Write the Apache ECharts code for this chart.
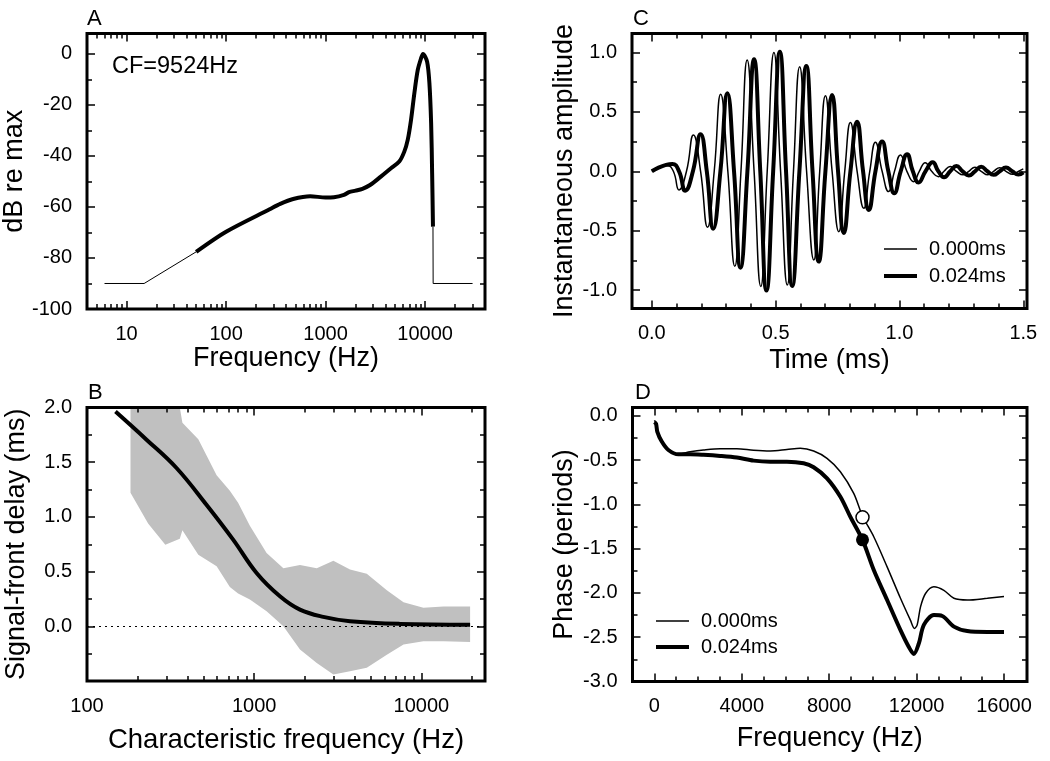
<!DOCTYPE html>
<html>
<head>
<meta charset="utf-8">
<script src="https://cdn.jsdelivr.net/npm/echarts@6/dist/echarts.min.js"></script>
<style>html,body{margin:0;padding:0;background:#fff}#c{width:1050px;height:761px}</style>
</head>
<body>
<div id="c"></div>
<script>
// ---------- Panel A: magnitude response ----------
const freqA_low = [6, 15, 50];
const dbA_low = [-90, -90, -77.6];
const freqA_mid = [50, 100, 274, 350, 472, 700, 1000, 1213, 1530, 1718, 2000, 2344, 2800, 3590, 4540, 5500, 6180, 6690, 7220, 7800, 8440, 9110, 9524, 10470, 11050, 11500, 11770, 12000];
const dbA_mid = [-77.6, -69.7, -60.9, -58.8, -56.9, -55.8, -56.3, -56.2, -55.3, -54.2, -53.6, -52.9, -51.4, -48.1, -44.8, -42.2, -38.3, -33.7, -25.9, -15.4, -6.3, -1.7, 0, -3.0, -11.5, -27.2, -46.8, -67.7];
const freqA_high = [12000, 12050, 30000];
const dbA_high = [-67.7, -90, -90];
const A_xMajor = [10, 100, 1000, 10000];
const A_xMinor = [5, 6, 7, 8, 9, 20, 30, 40, 50, 60, 70, 80, 90, 200, 300, 400, 500, 600, 700, 800, 900, 2000, 3000, 4000, 5000, 6000, 7000, 8000, 9000, 20000, 30000];
const A_yMajor = [-100, -80, -60, -40, -20, 0];
const A_yMinor = [-90, -70, -50, -30, -10];

// ---------- Panel B: signal-front delay ----------
const freqB_curve = [148, 227, 343, 518, 748, 1033, 1425, 1877, 2588, 3740, 7450, 19550];
const delayB_curve = [1.963, 1.706, 1.447, 1.111, 0.792, 0.487, 0.274, 0.152, 0.086, 0.046, 0.022, 0.015];
const freqB_band = [182, 232, 294, 359, 372, 463, 596, 715, 801, 942, 1186, 1494, 1878, 2366, 2974, 3740, 4711, 6210, 7815, 10280, 13540, 19550];
const upperB_band = [2.0, 2.0, 2.0, 2.0, 1.86, 1.71, 1.38, 1.24, 1.13, 0.92, 0.67, 0.53, 0.56, 0.53, 0.60, 0.52, 0.48, 0.33, 0.22, 0.17, 0.18, 0.18];
const lowerB_band = [1.22, 0.94, 0.746, 0.80, 0.877, 0.654, 0.548, 0.36, 0.30, 0.244, 0.137, 0.0, -0.213, -0.335, -0.44, -0.41, -0.38, -0.26, -0.167, -0.137, -0.137, -0.143];
const B_xMajor = [100, 1000, 10000];
const B_xMinor = [200, 300, 400, 500, 600, 700, 800, 900, 2000, 3000, 4000, 5000, 6000, 7000, 8000, 9000, 20000];
const B_yMajor = [-0.5, 0, 0.5, 1.0, 1.5, 2.0];
const B_yLabels = [0, 0.5, 1.0, 1.5, 2.0];
const B_yMinor = [-0.25, 0.25, 0.75, 1.25, 1.75];

// ---------- Panel C: instantaneous amplitude ----------
const timeC_0 = [0, 0.063, 0.087, 0.11, 0.14, 0.168, 0.197, 0.225, 0.252, 0.278, 0.307, 0.335, 0.36, 0.385, 0.413, 0.44, 0.466, 0.493, 0.52, 0.547, 0.572, 0.597, 0.625, 0.654, 0.678, 0.701, 0.728, 0.755, 0.779, 0.802, 0.829, 0.856, 0.88, 0.903, 0.93, 0.956, 0.98, 1.004, 1.03, 1.057, 1.08, 1.104, 1.13, 1.157, 1.18, 1.205, 1.23, 1.257, 1.28, 1.305, 1.33, 1.357, 1.38, 1.405, 1.43, 1.457, 1.48, 1.5];
const ampC_0 = [0, 0.047, 0, -0.157, 0, 0.306, 0, -0.471, 0, 0.648, 0, -0.80, 0, 0.937, 0, -0.97, 0, 1.0, 0, -0.957, 0, 0.881, 0, -0.746, 0, 0.637, 0, -0.508, 0, 0.41, 0, -0.311, 0, 0.244, 0, -0.171, 0, 0.137, 0, -0.087, 0, 0.073, 0, -0.045, 0, 0.04, 0, -0.03, 0, 0.035, 0, -0.03, 0, 0.03, 0, -0.025, 0, 0.02];
const timeC_24 = [0, 0.083, 0.11, 0.135, 0.166, 0.197, 0.222, 0.248, 0.277, 0.305, 0.332, 0.358, 0.386, 0.413, 0.438, 0.463, 0.49, 0.517, 0.542, 0.567, 0.596, 0.624, 0.649, 0.674, 0.701, 0.728, 0.752, 0.775, 0.802, 0.829, 0.853, 0.876, 0.903, 0.930, 0.955, 0.979, 1.005, 1.031, 1.054, 1.077, 1.105, 1.134, 1.157, 1.18, 1.205, 1.23, 1.255, 1.28, 1.305, 1.33, 1.355, 1.38, 1.405, 1.43, 1.455, 1.48, 1.5];
const ampC_24 = [0, 0.061, 0, -0.163, 0, 0.311, 0, -0.483, 0, 0.657, 0, -0.811, 0, 0.943, 0, -1.004, 0, 1.007, 0, -0.965, 0, 0.887, 0, -0.76, 0, 0.643, 0, -0.52, 0, 0.418, 0, -0.325, 0, 0.25, 0, -0.185, 0, 0.143, 0, -0.095, 0, 0.076, 0, -0.05, 0, 0.045, 0, -0.035, 0, 0.038, 0, -0.03, 0, 0.033, 0, -0.028, -0.01];
const C_xMajor = [0, 0.5, 1.0, 1.5];
const C_xMinor = [0.1, 0.2, 0.3, 0.4, 0.6, 0.7, 0.8, 0.9, 1.1, 1.2, 1.3, 1.4];
const C_yMajor = [-1.0, -0.5, 0, 0.5, 1.0];
const C_yMinor = [-0.75, -0.25, 0.25, 0.75];

// ---------- Panel D: phase ----------
const freqD_0 = [0, 78, 137, 339, 642, 1100, 1637, 2246, 3010, 3774, 4538, 5302, 6066, 6677, 7289, 7900, 8511, 9122, 9524, 10039, 10650, 11261, 11720, 11900, 12025, 12178, 12407, 12789, 13248, 13706, 14317, 15234, 15998];
const phaseD_0 = [-0.05, -0.083, -0.177, -0.29, -0.385, -0.43, -0.405, -0.385, -0.37, -0.37, -0.388, -0.396, -0.38, -0.366, -0.396, -0.479, -0.63, -0.875, -1.13, -1.365, -1.705, -2.06, -2.31, -2.40, -2.36, -2.157, -2.006, -1.93, -1.97, -2.06, -2.08, -2.06, -2.04];
const freqD_24 = [0, 78, 137, 339, 642, 1100, 1637, 2246, 3010, 3774, 4538, 5302, 6066, 6830, 7289, 7900, 8511, 8969, 9524, 10039, 10650, 11261, 11643, 11873, 12102, 12331, 12789, 13171, 13706, 14317, 15234, 15998];
const phaseD_24 = [-0.07, -0.09, -0.18, -0.29, -0.385, -0.434, -0.434, -0.44, -0.452, -0.47, -0.505, -0.517, -0.517, -0.535, -0.58, -0.705, -0.913, -1.14, -1.40, -1.74, -2.08, -2.42, -2.61, -2.69, -2.57, -2.36, -2.25, -2.26, -2.38, -2.43, -2.44, -2.44];
const cfD = [9524];
const openPhaseD = [-1.146];
const filledPhaseD = [-1.40];
const D_xMajor = [0, 4000, 8000, 12000, 16000];
const D_xMinor = [1000, 2000, 3000, 5000, 6000, 7000, 9000, 10000, 11000, 13000, 14000, 15000];
const D_yMajor = [-3.0, -2.5, -2.0, -1.5, -1.0, -0.5, 0];
const D_yMinor = [-2.75, -2.25, -1.75, -1.25, -0.75, -0.25];

const legendNames = ['0.000ms', '0.024ms'];

// ---------- build ----------
const FONT = '"Liberation Sans", Arial, Helvetica, sans-serif';
const zip = (a, b) => a.map((v, i) => [v, b[i]]);
const fmtInt = v => String(Math.round(v));
const fmt1 = v => (Math.abs(v) < 1e-9 ? 0 : v).toFixed(1);

function axis(o) {
  const ax = {
    type: o.type || 'value',
    gridIndex: o.grid,
    min: o.min, max: o.max,
    position: o.position,
    z: 6,
    axisLine: { show: false, onZero: false },
    axisTick: { show: true, inside: true, length: o.len, lineStyle: { color: '#000', width: 1.5 }, customValues: o.ticks },
    axisLabel: o.labels ? { show: true, customValues: o.labels, formatter: o.fmt, color: '#000', fontSize: 20, fontFamily: FONT, margin: 15 } : { show: false },
    splitLine: { show: false },
    minorTick: { show: false },
    minorSplitLine: { show: false }
  };
  if (ax.type === 'log') ax.logBase = 10;
  if (o.name) {
    ax.name = o.name;
    ax.nameLocation = 'middle';
    ax.nameGap = o.nameGap;
    ax.nameTextStyle = { color: '#000', fontSize: o.nameSize || 27, fontFamily: FONT };
  }
  return ax;
}

function panelAxes(g, xs, ys) {
  const x = [
    axis(Object.assign({}, xs, { grid: g, position: 'bottom', ticks: xs.major, len: 8 })),
    axis({ type: xs.type, grid: g, min: xs.min, max: xs.max, position: 'top', ticks: xs.major, len: 8 }),
    axis({ type: xs.type, grid: g, min: xs.min, max: xs.max, position: 'bottom', ticks: xs.minor, len: 5 }),
    axis({ type: xs.type, grid: g, min: xs.min, max: xs.max, position: 'top', ticks: xs.minor, len: 5 })
  ];
  const y = [
    axis(Object.assign({}, ys, { grid: g, position: 'left', ticks: ys.major, len: 8 })),
    axis({ grid: g, min: ys.min, max: ys.max, position: 'right', ticks: ys.major, len: 8 }),
    axis({ grid: g, min: ys.min, max: ys.max, position: 'left', ticks: ys.minor, len: 5 }),
    axis({ grid: g, min: ys.min, max: ys.max, position: 'right', ticks: ys.minor, len: 5 })
  ];
  return { x, y };
}

const pA = panelAxes(0,
  { type: 'log', min: 4, max: 40000, major: A_xMajor, minor: A_xMinor, labels: A_xMajor, fmt: fmtInt, name: 'Frequency (Hz)', nameGap: 35 },
  { min: -100, max: 8, major: A_yMajor, minor: A_yMinor, labels: A_yMajor, fmt: fmtInt, name: 'dB re max', nameGap: 54 });
const pC = panelAxes(1,
  { min: -0.08, max: 1.515, major: C_xMajor, minor: C_xMinor, labels: C_xMajor, fmt: fmt1, name: 'Time (ms)', nameGap: 39 },
  { min: -1.155, max: 1.16, major: C_yMajor, minor: C_yMinor, labels: C_yMajor, fmt: fmt1, name: 'Instantaneous amplitude', nameGap: 54 });
const pB = panelAxes(2,
  { type: 'log', min: 100, max: 24000, major: B_xMajor, minor: B_xMinor, labels: B_xMajor, fmt: fmtInt, name: 'Characteristic frequency (Hz)', nameGap: 45, nameSize: 27.5 },
  { min: -0.5, max: 2.0, major: B_yMajor, minor: B_yMinor, labels: B_yLabels, fmt: fmt1, name: 'Signal-front delay (ms)', nameGap: 57 });
const pD = panelAxes(3,
  { min: -1000, max: 17050, major: D_xMajor, minor: D_xMinor, labels: D_xMajor, fmt: fmtInt, name: 'Frequency (Hz)', nameGap: 44 },
  { min: -3.0, max: 0.095, major: D_yMajor, minor: D_yMinor, labels: D_yMajor, fmt: fmt1, name: 'Phase (periods)', nameGap: 54 });

const gridStyle = { show: true, borderColor: '#000', borderWidth: 3, backgroundColor: 'transparent', z: 6 };
const lineBase = { type: 'line', symbol: 'none', showSymbol: false, animation: false };
const thinIcon = 'path://M0 0H66V3H0Z';
const boldIcon = 'path://M0 0H33V4H0Z';
const legendData = [{ name: legendNames[0], icon: thinIcon }, { name: legendNames[1], icon: boldIcon }];
const letterStyle = { fontSize: 22, fontWeight: 'normal', color: '#000', fontFamily: FONT };

const option = {
  animation: false,
  backgroundColor: '#fff',
  textStyle: { fontFamily: FONT },
  title: [
    { text: 'A', left: 87, top: 8, padding: 0, textStyle: letterStyle },
    { text: 'C', left: 633, top: 8, padding: 0, textStyle: letterStyle },
    { text: 'B', left: 88, top: 382, padding: 0, textStyle: letterStyle },
    { text: 'D', left: 635, top: 382, padding: 0, textStyle: letterStyle },
    { text: 'CF=9524Hz', left: 112, top: 55, padding: 0, textStyle: { fontSize: 23.5, fontWeight: 'normal', color: '#000', fontFamily: FONT } }
  ],
  grid: [
    Object.assign({ left: 87, top: 33.5, width: 398, height: 275.5 }, gridStyle),
    Object.assign({ left: 632, top: 33.5, width: 395, height: 275 }, gridStyle),
    Object.assign({ left: 87, top: 407.5, width: 398, height: 273.5 }, gridStyle),
    Object.assign({ left: 632.5, top: 407.5, width: 394.5, height: 274 }, gridStyle)
  ],
  xAxis: [].concat(pA.x, pC.x, pB.x, pD.x),
  yAxis: [].concat(pA.y, pC.y, pB.y, pD.y),
  legend: [
    { data: legendData, orient: 'vertical', left: 884, top: 239, itemWidth: 33, itemHeight: 14, itemGap: 7, selectedMode: false, padding: 0,
      textStyle: { color: '#000', fontSize: 20, fontFamily: FONT, padding: [0, 0, 0, 7] } },
    { data: legendData, orient: 'vertical', left: 656, top: 611, itemWidth: 33, itemHeight: 14, itemGap: 6, selectedMode: false, padding: 0,
      textStyle: { color: '#000', fontSize: 20, fontFamily: FONT, padding: [0, 0, 0, 7] } }
  ],
  series: [
    // A
    Object.assign({}, lineBase, { xAxisIndex: 0, yAxisIndex: 0, data: zip(freqA_low, dbA_low), lineStyle: { color: '#000', width: 1 } }),
    Object.assign({}, lineBase, { xAxisIndex: 0, yAxisIndex: 0, data: zip(freqA_high, dbA_high), lineStyle: { color: '#000', width: 1 } }),
    Object.assign({}, lineBase, { xAxisIndex: 0, yAxisIndex: 0, data: zip(freqA_mid, dbA_mid), smooth: 0.3, lineStyle: { color: '#000', width: 4 } }),
    // C
    Object.assign({}, lineBase, { name: legendNames[0], xAxisIndex: 4, yAxisIndex: 4, data: zip(timeC_0, ampC_0), smooth: 0.5, itemStyle: { color: '#000' }, lineStyle: { color: '#000', width: 1.5 } }),
    Object.assign({}, lineBase, { name: legendNames[1], xAxisIndex: 4, yAxisIndex: 4, data: zip(timeC_24, ampC_24), smooth: 0.5, itemStyle: { color: '#000' }, lineStyle: { color: '#000', width: 4 } }),
    // B band (polygon between upper and lower bounds)
    {
      type: 'custom', xAxisIndex: 8, yAxisIndex: 8, silent: true, z: 1, clip: true,
      data: [[freqB_band[0], lowerB_band[0]]],
      renderItem: function (params, api) {
        const pts = [];
        for (let i = 0; i < freqB_band.length; i++) pts.push(api.coord([freqB_band[i], upperB_band[i]]));
        for (let i = freqB_band.length - 1; i >= 0; i--) pts.push(api.coord([freqB_band[i], lowerB_band[i]]));
        return { type: 'polygon', shape: { points: pts }, style: { fill: '#c0c0c0', stroke: null } };
      }
    },
    Object.assign({}, lineBase, { xAxisIndex: 8, yAxisIndex: 8, z: 3, data: zip(freqB_curve, delayB_curve), smooth: 0.4, lineStyle: { color: '#000', width: 4 },
      markLine: { silent: true, symbol: ['none', 'none'], label: { show: false }, lineStyle: { color: '#000', width: 1.2, type: [2, 4] }, data: [{ yAxis: 0 }], animation: false } }),
    // D
    Object.assign({}, lineBase, { name: legendNames[0], xAxisIndex: 12, yAxisIndex: 12, data: zip(freqD_0, phaseD_0), smooth: 0.3, itemStyle: { color: '#000' }, lineStyle: { color: '#000', width: 1.5 } }),
    Object.assign({}, lineBase, { name: legendNames[1], xAxisIndex: 12, yAxisIndex: 12, data: zip(freqD_24, phaseD_24), smooth: 0.3, itemStyle: { color: '#000' }, lineStyle: { color: '#000', width: 4 } }),
    { type: 'scatter', xAxisIndex: 12, yAxisIndex: 12, data: zip(cfD, openPhaseD), symbol: 'circle', symbolSize: 13, itemStyle: { color: '#fff', borderColor: '#000', borderWidth: 1.5, opacity: 1 }, z: 4 },
    { type: 'scatter', xAxisIndex: 12, yAxisIndex: 12, data: zip(cfD, filledPhaseD), symbol: 'circle', symbolSize: 13, itemStyle: { color: '#000', opacity: 1 }, z: 4 }
  ]
};

const chart = echarts.init(document.getElementById('c'), null, { renderer: 'canvas' });
chart.setOption(option);
</script>
</body>
</html>
